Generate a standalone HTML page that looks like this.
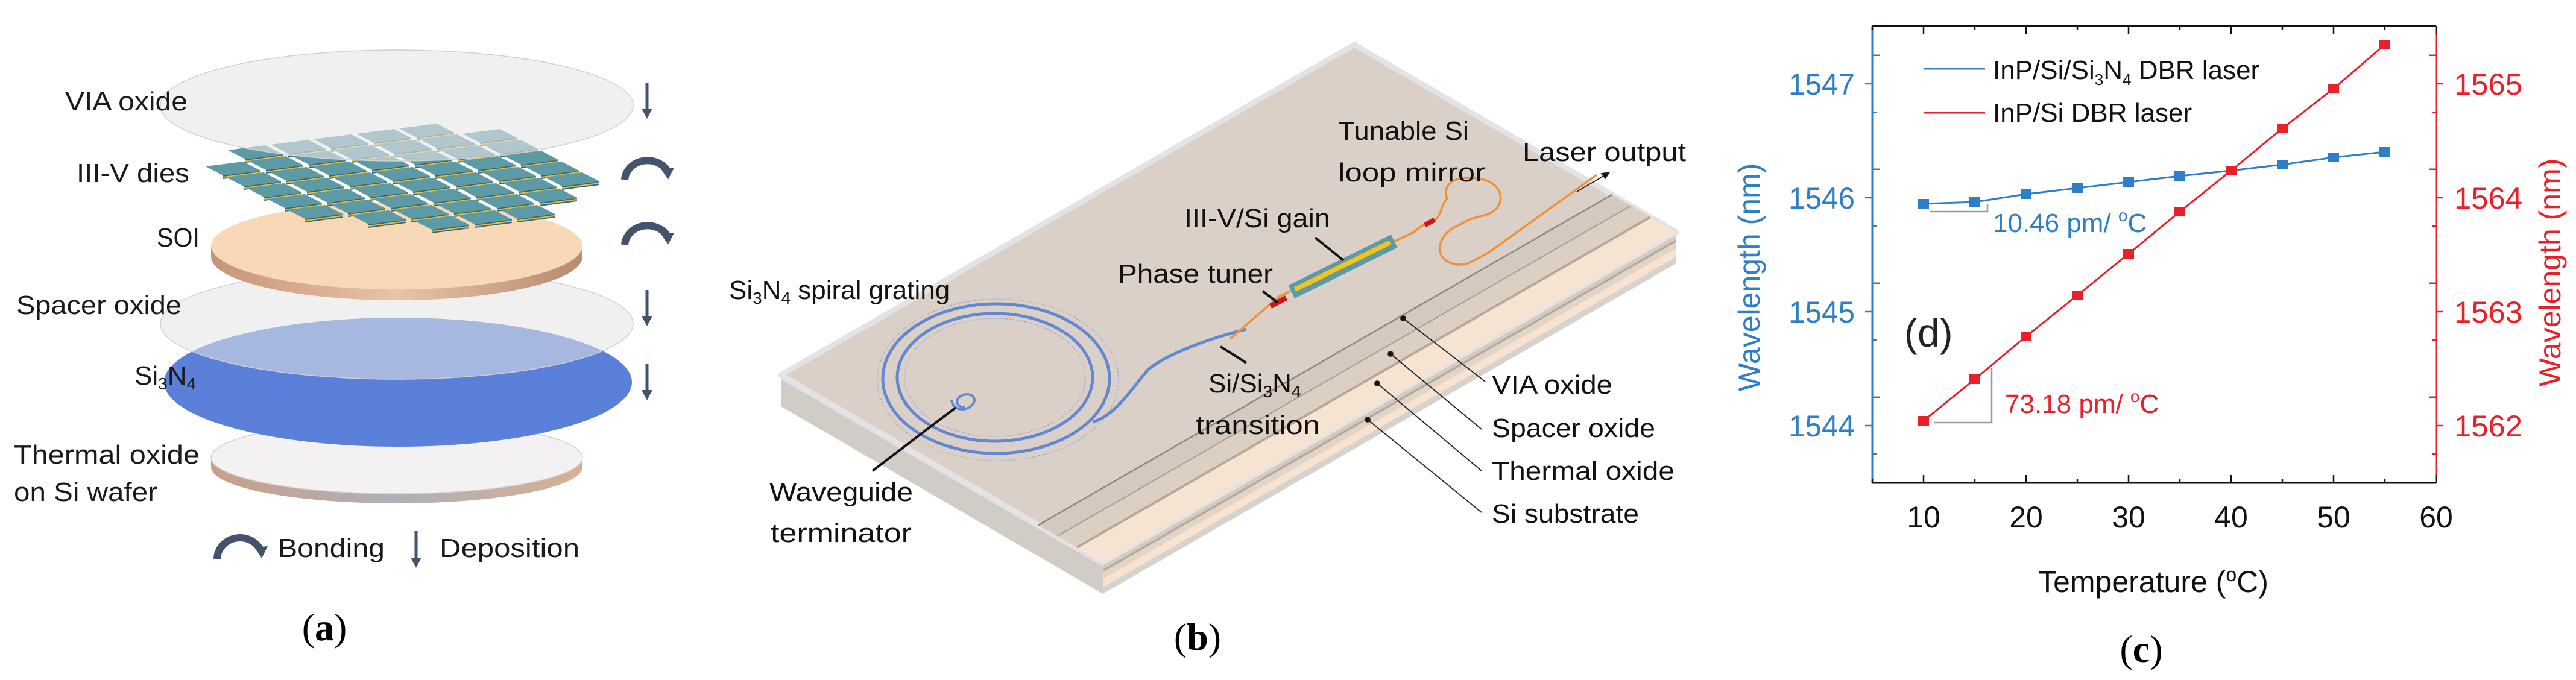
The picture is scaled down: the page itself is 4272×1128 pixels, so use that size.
<!DOCTYPE html>
<html><head><meta charset="utf-8"><style>
html,body{margin:0;padding:0;background:#fff}
svg{display:block}
text{font-family:"Liberation Sans",sans-serif}
.s{font-family:"Liberation Serif",serif}
</style></head><body>
<svg id="sv" width="4272" height="1128" viewBox="0 0 4272 1128" xmlns="http://www.w3.org/2000/svg">
<defs>
<linearGradient id="edgeA" x1="0" x2="1"><stop offset="0" stop-color="#c89478"/><stop offset="0.5" stop-color="#e8c4a8"/><stop offset="1" stop-color="#b88a70"/></linearGradient>
<linearGradient id="edgeB" x1="0" x2="1"><stop offset="0" stop-color="#c8a088"/><stop offset="0.5" stop-color="#b0b0b8"/><stop offset="1" stop-color="#d8b090"/></linearGradient>
</defs>
<!-- ========== Panel a ========== -->
<path d="M350 759 L350 775 A308 60 0 0 0 966 775 L966 759 Z" fill="url(#edgeB)"/>
<ellipse cx="658" cy="759" rx="308" ry="60" fill="#f3f1f1" stroke="#d8d0cc" stroke-width="1.5"/>
<ellipse cx="660" cy="634" rx="388" ry="107" fill="#5b80da"/>
<ellipse cx="658" cy="537" rx="392" ry="92" fill="#e4e4e6" fill-opacity="0.55" stroke="#d0d0d4" stroke-width="1.5"/>
<path d="M350 408 L350 426 A308 72 0 0 0 966 426 L966 408 Z" fill="url(#edgeA)"/>
<ellipse cx="658" cy="408" rx="308" ry="72" fill="#f9d8b8"/>
<g id="dies"></g>
<ellipse cx="658" cy="175" rx="392" ry="92" fill="#e6e6e8" fill-opacity="0.6" stroke="#cfcfd3" stroke-width="1.5"/>
<g font-size="44" fill="#1a1a1a">
<text x="108" y="183" textLength="203" lengthAdjust="spacingAndGlyphs">VIA oxide</text>
<text x="127" y="302" textLength="187" lengthAdjust="spacingAndGlyphs">III-V dies</text>
<text x="260" y="409" textLength="71" lengthAdjust="spacingAndGlyphs">SOI</text>
<text x="27" y="521" textLength="274" lengthAdjust="spacingAndGlyphs">Spacer oxide</text>
<text x="223" y="638">Si<tspan font-size="28" dy="8">3</tspan><tspan dy="-8">N</tspan><tspan font-size="28" dy="8">4</tspan></text>
<text x="23" y="769" textLength="308" lengthAdjust="spacingAndGlyphs">Thermal oxide</text>
<text x="23" y="831" textLength="238" lengthAdjust="spacingAndGlyphs">on Si wafer</text>
<text x="461" y="924" textLength="177" lengthAdjust="spacingAndGlyphs">Bonding</text>
<text x="729" y="924" textLength="232" lengthAdjust="spacingAndGlyphs">Deposition</text>
</g>
<g fill="#43536b" stroke="#43536b">
<line x1="1073" y1="137" x2="1073" y2="185" stroke-width="5"/><path d="M1064 180 L1082 180 L1073 197 Z" stroke="none"/>
<line x1="1073" y1="481" x2="1073" y2="529" stroke-width="5"/><path d="M1064 524 L1082 524 L1073 541 Z" stroke="none"/>
<line x1="1073" y1="604" x2="1073" y2="652" stroke-width="5"/><path d="M1064 647 L1082 647 L1073 664 Z" stroke="none"/>
<line x1="690" y1="881" x2="690" y2="930" stroke-width="5"/><path d="M681 925 L699 925 L690 942 Z" stroke="none"/>
<path d="M1036 298 A38 34 0 0 1 1106 282" fill="none" stroke-width="12"/><path d="M1096 280 L1118 278 L1108 298 Z" stroke="none"/>
<path d="M1036 406 A38 34 0 0 1 1106 390" fill="none" stroke-width="12"/><path d="M1096 388 L1118 386 L1108 406 Z" stroke="none"/>
<path d="M360 927 A38 36 0 0 1 432 912" fill="none" stroke-width="12"/><path d="M422 908 L444 906 L434 926 Z" stroke="none"/>
</g>
<text class="s" x="538" y="1062" font-size="64" text-anchor="middle" fill="#000">(<tspan font-weight="bold">a</tspan>)</text>

<!-- ========== Panel b ========== -->
<polygon points="1295,622 1829,933 1829,985 1295,674" fill="#d2ccc7"/>
<polygon points="1295,622 1829,933 1829,940 1295,629" fill="#e2e2e2"/>
<polygon points="1829,933 2780,385 2780,437 1829,985" fill="#d6d2ce"/>
<polygon points="1829,933 2780,385 2780,397 1829,945" fill="#d6cabe"/>
<polygon points="1829,945 2780,397 2780,401 1829,949" fill="#b5a89c"/>
<polygon points="1829,949 2780,401 2780,412 1829,960" fill="#e2d4c6"/>
<polygon points="1829,960 2780,412 2780,426 1829,974" fill="#f7e3d0"/>
<polygon points="1295,622 2246,74 2780,385 1829,933" fill="#dbd0c7" stroke="#e3e3e5" stroke-width="9" stroke-linejoin="round"/>
<polygon points="1722,871 2673,323 2737,360 1786,908" fill="#d5c9bf"/>
<polygon points="1754,889 2705,341 2737,360 1786,908" fill="#dccfc4"/>
<polygon points="1786,908 2737,360 2780,385 1829,933" fill="#f6e3d1"/>
<line x1="1722" y1="871" x2="2673" y2="323" stroke="#8f8780" stroke-width="2.5"/>
<line x1="1754" y1="889" x2="2705" y2="341" stroke="#a89e96" stroke-width="2"/>
<line x1="1786" y1="908" x2="2737" y2="360" stroke="#b8a898" stroke-width="4"/>
<g fill="none">
<ellipse cx="1655" cy="630" rx="200" ry="134" stroke="#8fa3d2" stroke-width="1.5" stroke-dasharray="2 3"/>
<ellipse cx="1652" cy="628" rx="188" ry="124" stroke="#6388d2" stroke-width="5"/>
<ellipse cx="1650" cy="626" rx="162" ry="106" stroke="#6388d2" stroke-width="5"/>
<ellipse cx="1650" cy="626" rx="150" ry="98" stroke="#8fa3d2" stroke-width="1.5" stroke-dasharray="2 3"/>
<path d="M1600 676 C1585 676 1582 660 1598 655 C1612 651 1622 662 1612 672 C1600 684 1580 680 1578 664" stroke="#6388d2" stroke-width="4"/>
<path d="M1812 700 C1850 690 1880 640 1905 612 C1940 585 2010 560 2067 546" stroke="#6388d2" stroke-width="5"/>
<path d="M2040 562 L2121 492 L2311 401 L2345 385 Q2358 372 2375 368 C2392 360 2388 340 2400 330 C2390 300 2420 292 2450 296 C2500 302 2500 350 2458 358 C2430 364 2425 372 2410 378 C2385 392 2375 430 2412 438 C2430 442 2440 435 2470 418 L2648 290" stroke="#f0913a" stroke-width="3.5"/>
</g>
<polygon points="2105,504 2131,490 2135,498 2109,512" fill="#cc1818"/>
<polygon points="2361,370 2377,361 2381,368 2365,377" fill="#cc1818"/>
<g transform="translate(2227,442) rotate(-26.3)">
<rect x="-95" y="-12" width="190" height="24" fill="#5b9aa6"/>
<rect x="-88" y="-5" width="176" height="8" fill="#f4c518"/>
</g>
<g stroke="#111" stroke-width="4">
<line x1="2181" y1="394" x2="2228" y2="432"/>
<line x1="2094" y1="483" x2="2119" y2="502"/>
<line x1="2024" y1="575" x2="2067" y2="602"/>
<line x1="1585" y1="676" x2="1447" y2="781"/>
</g>
<g stroke="#222" stroke-width="1.8" fill="#111">
<line x1="2615" y1="318" x2="2666" y2="288"/><path d="M2669 286 L2656 288 L2662 296 Z"/>
<line x1="2327" y1="528" x2="2463" y2="633"/><circle cx="2327" cy="528" r="4"/>
<line x1="2306" y1="587" x2="2457" y2="712"/><circle cx="2306" cy="587" r="4"/>
<line x1="2284" y1="636" x2="2457" y2="781"/><circle cx="2284" cy="636" r="4"/>
<line x1="2268" y1="696" x2="2457" y2="850"/><circle cx="2268" cy="696" r="4"/>
</g>
<g font-size="44" fill="#111">
<text x="1209" y="496">Si<tspan font-size="28" dy="8">3</tspan><tspan dy="-8">N</tspan><tspan font-size="28" dy="8">4</tspan><tspan dy="-8"> spiral grating</tspan></text>
<text x="2219" y="232" textLength="217" lengthAdjust="spacingAndGlyphs">Tunable Si</text>
<text x="2219" y="301" textLength="244" lengthAdjust="spacingAndGlyphs">loop mirror</text>
<text x="2525" y="267" textLength="271" lengthAdjust="spacingAndGlyphs">Laser output</text>
<text x="1964" y="377" textLength="242" lengthAdjust="spacingAndGlyphs">III-V/Si gain</text>
<text x="1854" y="469" textLength="257" lengthAdjust="spacingAndGlyphs">Phase tuner</text>
<text x="2004" y="651">Si/Si<tspan font-size="28" dy="8">3</tspan><tspan dy="-8">N</tspan><tspan font-size="28" dy="8">4</tspan></text>
<text x="1983" y="720" textLength="206" lengthAdjust="spacingAndGlyphs">transition</text>
<text x="1276" y="831" textLength="238" lengthAdjust="spacingAndGlyphs">Waveguide</text>
<text x="1278" y="899" textLength="234" lengthAdjust="spacingAndGlyphs">terminator</text>
<text x="2474" y="653" textLength="200" lengthAdjust="spacingAndGlyphs">VIA oxide</text>
<text x="2474" y="725" textLength="271" lengthAdjust="spacingAndGlyphs">Spacer oxide</text>
<text x="2474" y="796" textLength="303" lengthAdjust="spacingAndGlyphs">Thermal oxide</text>
<text x="2474" y="867" textLength="244" lengthAdjust="spacingAndGlyphs">Si substrate</text>
</g>
<text class="s" x="1986" y="1078" font-size="64" text-anchor="middle" fill="#000">(<tspan font-weight="bold">b</tspan>)</text>

<!-- ========== Panel c ========== -->
<line x1="3105" y1="43" x2="4040" y2="43" stroke="#111" stroke-width="3"/>
<line x1="3105" y1="801" x2="4040" y2="801" stroke="#111" stroke-width="3"/>
<line x1="3105" y1="43" x2="3105" y2="801" stroke="#2f7fc8" stroke-width="3"/>
<line x1="4040" y1="43" x2="4040" y2="801" stroke="#e8202a" stroke-width="3"/>
<g id="ticks"></g>
<g font-size="50" fill="#2f7fc8" text-anchor="end">
<text x="3076" y="157" textLength="110" lengthAdjust="spacingAndGlyphs">1547</text>
<text x="3076" y="346" textLength="110" lengthAdjust="spacingAndGlyphs">1546</text>
<text x="3076" y="535" textLength="110" lengthAdjust="spacingAndGlyphs">1545</text>
<text x="3076" y="724" textLength="110" lengthAdjust="spacingAndGlyphs">1544</text>
</g>
<g font-size="50" fill="#e8202a">
<text x="4070" y="157" textLength="113" lengthAdjust="spacingAndGlyphs">1565</text>
<text x="4070" y="346" textLength="113" lengthAdjust="spacingAndGlyphs">1564</text>
<text x="4070" y="535" textLength="113" lengthAdjust="spacingAndGlyphs">1563</text>
<text x="4070" y="724" textLength="113" lengthAdjust="spacingAndGlyphs">1562</text>
</g>
<g font-size="50" fill="#111" text-anchor="middle">
<text x="3190" y="875">10</text><text x="3360" y="875">20</text><text x="3530" y="875">30</text>
<text x="3700" y="875">40</text><text x="3870" y="875">50</text><text x="4040" y="875">60</text>
<text x="3571" y="982">Temperature (<tspan font-size="32" dy="-18">o</tspan><tspan dy="18">C)</tspan></text>
</g>
<text transform="translate(2918,460) rotate(-90)" font-size="50" fill="#2f7fc8" text-anchor="middle">Wavelength (nm)</text>
<text transform="translate(4246,452) rotate(-90)" font-size="50" fill="#e8202a" text-anchor="middle">Wavelength (nm)</text>
<line x1="3190" y1="114" x2="3292" y2="114" stroke="#2f7fc8" stroke-width="3"/>
<line x1="3190" y1="187" x2="3292" y2="187" stroke="#e8202a" stroke-width="3"/>
<g font-size="44" fill="#111">
<text x="3305" y="131">InP/Si/Si<tspan font-size="26" dy="10">3</tspan><tspan dy="-10">N</tspan><tspan font-size="26" dy="10">4</tspan><tspan dy="-10"> DBR laser</tspan></text>
<text x="3305" y="202">InP/Si DBR laser</text>
</g>
<polyline points="3201,351 3296,351 3296,338" fill="none" stroke="#999" stroke-width="2.5"/>
<polyline points="3208,701 3303,701 3303,611" fill="none" stroke="#999" stroke-width="2.5"/>
<text x="3305" y="385" font-size="44" fill="#2f7fc8">10.46 pm/ <tspan font-size="28" dy="-18">o</tspan><tspan dy="18">C</tspan></text>
<text x="3325" y="685" font-size="44" fill="#e8202a">73.18 pm/ <tspan font-size="28" dy="-18">o</tspan><tspan dy="18">C</tspan></text>
<text x="3158" y="575" font-size="66" fill="#222">(d)</text>
<polyline points="3190,338 3275,335 3360,322 3445,312 3530,302 3615,292 3700,283 3785,273 3870,261 3955,252" fill="none" stroke="#2f7fc8" stroke-width="3"/>
<polyline points="3190,698 3275,629 3360,558 3445,490 3530,421 3615,351 3700,283 3785,213 3870,147 3955,74" fill="none" stroke="#e8202a" stroke-width="3"/>
<g id="mk"></g>
<text class="s" x="3551" y="1098" font-size="64" text-anchor="middle" fill="#000">(<tspan font-weight="bold">c</tspan>)</text>
</svg>
<script>
var NS="http://www.w3.org/2000/svg";
function el(p,t,a){var e=document.createElementNS(NS,t);for(var k in a)e.setAttribute(k,a[k]);p.appendChild(e);return e;}
var g=document.getElementById('dies');var list=[];
for(var j=-5;j<=5;j++)for(var i=-2;i<=9;i++){
 var x=375+i*71+j*34, y=294-i*9+j*18;
 var cx=x+30,cy=y+8;
 var dx=(cx-662)/300,dy=(cy-295)/82;
 if(dx*dx+dy*dy<=1&&(cy<380)&&(cy>215))list.push([x,y]);
}
list.sort(function(a,b){return a[1]-b[1];});
list.forEach(function(p){var x=p[0],y=p[1];
 var ux=62,uy=-8,vx=29,vy=15,h=6;
 var a=[x,y],b=[x+ux,y+uy],c=[x+ux+vx,y+uy+vy],d=[x+vx,y+vy];
 el(g,'polygon',{points:[d,c,[c[0],c[1]+h],[d[0],d[1]+h]].join(' '),fill:'#3a6670'});
 el(g,'polygon',{points:[b,c,[c[0],c[1]+h],[b[0],b[1]+h]].join(' '),fill:'#4f7f88'});
 el(g,'line',{x1:d[0],y1:d[1]+3,x2:c[0],y2:c[1]+3,stroke:'#e8c040','stroke-width':2});
 el(g,'polygon',{points:[a,b,c,d].join(' '),fill:'#5c9aa5'});
});
var t=document.getElementById('ticks');
for(var k=5;k<=60;k+=5){var X=3105+(k-5)*17;el(t,'line',{x1:X,y1:801,x2:X,y2:(k%10==0?788:794),stroke:'#111','stroke-width':2.5});
 el(t,'line',{x1:X,y1:43,x2:X,y2:(k%10==0?56:50),stroke:'#111','stroke-width':2.5});}
for(var m=0;m<8;m++){var Y=139+(m-0.5)*94.5;if(Y<45)continue;var maj=(m%2==0);
 el(t,'line',{x1:3105,y1:Y,x2:3105+(maj?12:7),y2:Y,stroke:'#2f7fc8','stroke-width':2.5});
 el(t,'line',{x1:4040,y1:Y,x2:4040-(maj?12:7),y2:Y,stroke:'#e8202a','stroke-width':2.5});}
[139,328,517,706].forEach(function(Y){el(t,'line',{x1:3093,y1:Y,x2:3105,y2:Y,stroke:'#2f7fc8','stroke-width':2.5});el(t,'line',{x1:4040,y1:Y,x2:4052,y2:Y,stroke:'#e8202a','stroke-width':2.5});});
var mk=document.getElementById('mk');
var bx=[3190,3275,3360,3445,3530,3615,3700,3785,3870,3955];
var by=[338,335,322,312,302,292,283,273,261,252],ry=[698,629,558,490,421,351,283,213,147,74];
bx.forEach(function(X,i){el(mk,'rect',{x:X-9,y:by[i]-8,width:18,height:16,fill:'#2f7fc8'});});
bx.forEach(function(X,i){el(mk,'rect',{x:X-9,y:ry[i]-8,width:18,height:16,fill:'#e8202a'});});
</script>
</body></html>
